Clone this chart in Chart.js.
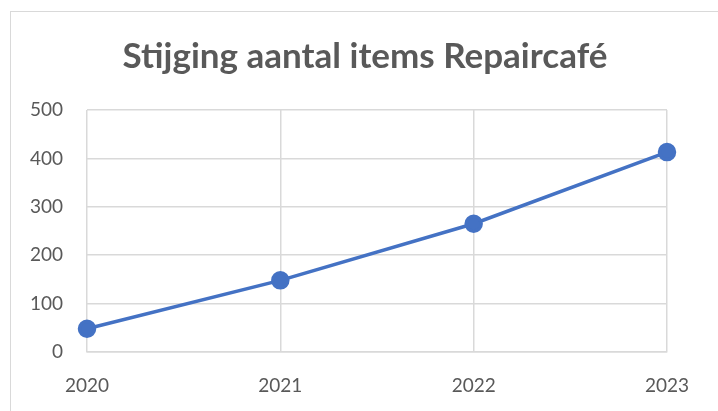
<!DOCTYPE html>
<html>
<head>
<meta charset="utf-8">
<script src="https://cdn.jsdelivr.net/npm/chart.js@4"></script>
<style>
html,body{margin:0;padding:0;background:#fff;}
#wrap{position:relative;width:718px;height:411px;overflow:hidden;}
#frame{position:absolute;left:10px;top:11px;width:740px;height:440px;border:1px solid #d9d9d9;box-sizing:border-box;}
canvas{position:absolute;left:0;top:0;}
</style>
</head>
<body>
<div id="wrap">
<div id="frame"></div>
<canvas id="c" width="718" height="411"></canvas>
</div>
<script>
const categories = ['2020', '2021', '2022', '2023'];
const itemCounts = [48, 148, 265, 413];
const yTicks = [0, 100, 200, 300, 400, 500];
const chartTitle = 'Stijging aantal items Repaircafé';

const grey = '#595959';
const shiftTitle = {
  id: 'shiftTitle',
  afterLayout(chart) {
    if (chart.titleBlock) { chart.titleBlock.left = 63; chart.titleBlock.right = 667; }
  }
};
new Chart(document.getElementById('c'), {
  type: 'line',
  plugins: [shiftTitle],
  data: {
    labels: categories,
    datasets: [{
      data: itemCounts,
      borderColor: '#4472C4',
      backgroundColor: '#4472C4',
      borderWidth: 3.5,
      pointRadius: 7.5,
      pointHoverRadius: 7.5,
      pointBackgroundColor: '#4472C4',
      pointBorderColor: '#4472C4',
      tension: 0
    }]
  },
  options: {
    responsive: false,
    animation: false,
    devicePixelRatio: 1,
    layout: { padding: { left: 0, right: 51, top: 0, bottom: 0 } },
    plugins: {
      legend: { display: false },
      tooltip: { enabled: false },
      title: {
        display: true,
        text: chartTitle,
        color: grey,
        font: { family: 'Lato', size: 35, weight: 'bold' },
        padding: { top: 36, bottom: 32 }
      }
    },
    scales: {
      x: {
        offset: false,
        grid: { color: '#d9d9d9', lineWidth: 1.5, drawTicks: false },
        border: { color: '#d9d9d9', width: 1.5 },
        ticks: { color: grey, font: { family: 'Lato', size: 19 }, padding: 22, maxRotation: 0 },
        afterFit: s => { s.height = 59; }
      },
      y: {
        min: 0, max: 500,
        afterBuildTicks: s => { s.ticks = yTicks.map(v => ({ value: v })); },
        grid: { color: '#d9d9d9', lineWidth: 1.5, drawTicks: false },
        border: { display: false },
        ticks: { color: grey, font: { family: 'Lato', size: 19 }, padding: 24 },
        afterFit: s => { s.width = 87; }
      }
    }
  }
});
</script>
</body>
</html>
